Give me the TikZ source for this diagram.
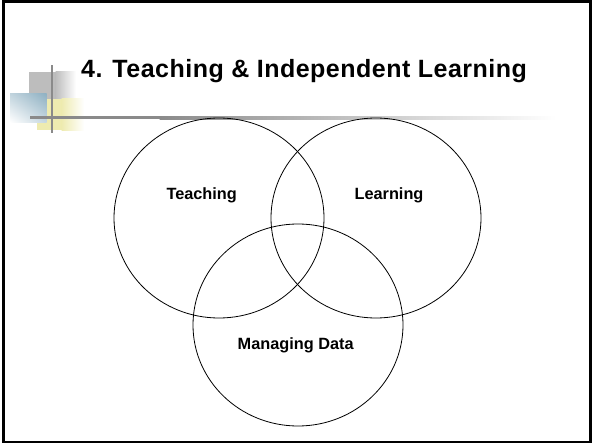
\documentclass[tikz,border=0pt]{standalone}
\usepackage{fontspec}
\setmainfont{Liberation Sans}
\newfontfamily\titlefont[LetterSpace=2]{Liberation Sans}
\usetikzlibrary{shapes.geometric,shadings}
\definecolor{linegray}{HTML}{8A8A8A}
\definecolor{sqgray}{HTML}{BDBDBD}
\definecolor{sqblue}{HTML}{8EB0C2}
\definecolor{sqyellow}{HTML}{EEEBB0}
\tikzset{
  venn/.style={ellipse, draw=black, line width=0.8pt, minimum width=210pt, minimum height=200pt, inner sep=0pt},
  vlabel/.style={font=\fontsize{16.3}{18}\selectfont\bfseries, inner sep=0pt},
  titletext/.style={font=\titlefont\fontsize{25}{28}\selectfont\bfseries, inner sep=0pt, anchor=base west}
}
\begin{document}
\begin{tikzpicture}[x=1pt, y=-1pt]
\useasboundingbox (0,0) rectangle (592,444);
\fill[white] (0,0) rectangle (592,444);
% frame
\draw[line width=2.5pt] (3.5,1.5) rectangle (590.5,442);
% decoration squares
\fill[sqgray] (29,71.7) rectangle (56,99);
\shade[left color=sqgray, right color=white] (55.5,71.7) rectangle (76,99);
\fill[sqyellow] (37.3,99) rectangle (62,130);
\shade[left color=sqyellow, right color=white] (61.5,99) rectangle (84,130);
\shade[upper right=sqblue, upper left=sqblue!55!white, lower right=sqblue!50!white, lower left=white] (10,93.3) rectangle (46.7,122.3);
% lines
\fill[linegray] (30,116.2) rectangle (160,119.2);
\shade[left color=linegray, right color=white] (159.5,116.2) rectangle (556,119.2);
\fill[linegray] (50.7,65) rectangle (53.4,133.3);
% title
\node[titletext] (title) at (81,77.5) {4. Teaching \& Independent Learning};
% venn
\node[venn] (teach) at (219,218) {};
\node[venn] (learn) at (376,218) {};
\node[venn, minimum height=202pt] (data) at (298,325) {};
\node[vlabel] (tl) at (201.7,195) {Teaching};
\node[vlabel] (ll) at (389,195) {Learning};
\node[vlabel] (dl) at (295.7,345.7) {Managing Data};
\end{tikzpicture}
\end{document}
